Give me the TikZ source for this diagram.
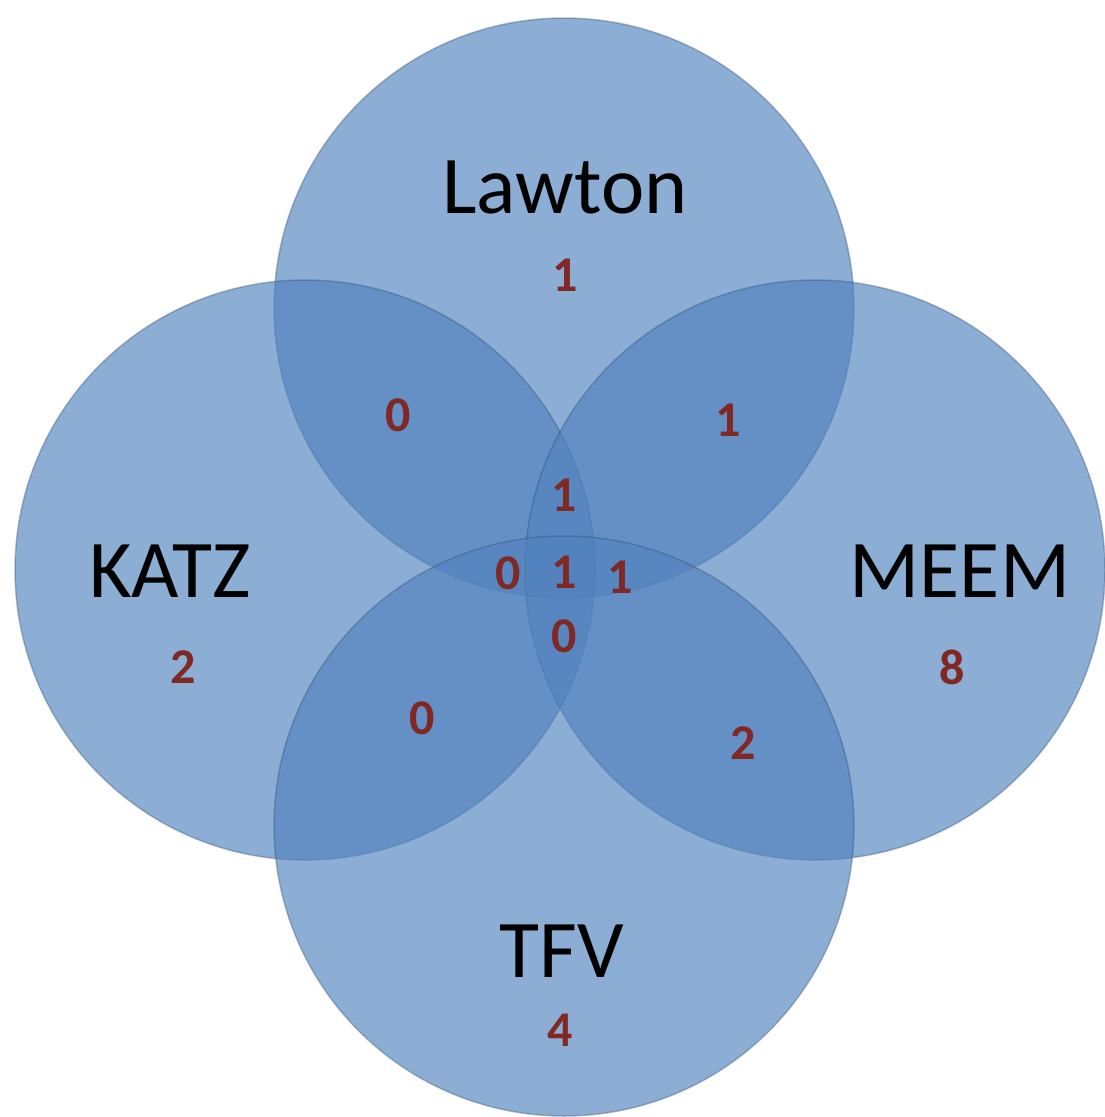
\documentclass[tikz,border=0pt]{standalone}
\usepackage{fontspec}
\setmainfont{Carlito}

\definecolor{setblue}{RGB}{79,129,189}
\definecolor{countred}{RGB}{128,40,36}

\tikzset{
    setcircle/.style={fill=setblue, fill opacity=0.65, draw=setblue!60!black, draw opacity=0.35, line width=1.5pt},
    setname/.style={font=\fontsize{82}{82}\selectfont, text=black},
    setcount/.style={font=\fontsize{50}{50}\selectfont\bfseries, text=countred},
}

\begin{document}
\begin{tikzpicture}[x=1pt,y=-1pt]

    \useasboundingbox (0,0) rectangle (1105,1117);

    % centres
    \coordinate (lawton) at (564,308);
    \coordinate (katz) at (305,570);
    \coordinate (meem) at (815,570);
    \coordinate (tfv) at (564,826);

    % circles:
    \path[setcircle] (lawton) circle (290pt);
    \path[setcircle] (katz) circle (290pt);
    \path[setcircle] (meem) circle (290pt);
    \path[setcircle] (tfv) circle (290pt);

    % names
    \node[setname] (nlawton) at (565,187) {Lawton};
    \node[setname] (nkatz) at (170,571) {KATZ};
    \node[setname] (nmeem) at (960,571) {MEEM};
    \node[setname] (ntfv) at (562,951) {TFV};

    % single sets
    \node[setcount] (cl) at (565,275) {1};
    \node[setcount] (ck) at (183,667) {2};
    \node[setcount] (cm) at (952,667) {8};
    \node[setcount] (ct) at (560,1030) {4};

    % two sets
    \node[setcount] (clk) at (398,415) {0};
    \node[setcount] (clm) at (728,420) {1};
    \node[setcount] (ckt) at (422,718) {0};
    \node[setcount] (cmt) at (743,743) {2};

    % three and four sets
    \node[setcount] (clkm) at (564,495) {1};
    \node[setcount] (clkt) at (508,573) {0};
    \node[setcount] (call) at (564,572) {1};
    \node[setcount] (clmt) at (620,577) {1};
    \node[setcount] (ckmt) at (564,636) {0};

\end{tikzpicture}
\end{document}
